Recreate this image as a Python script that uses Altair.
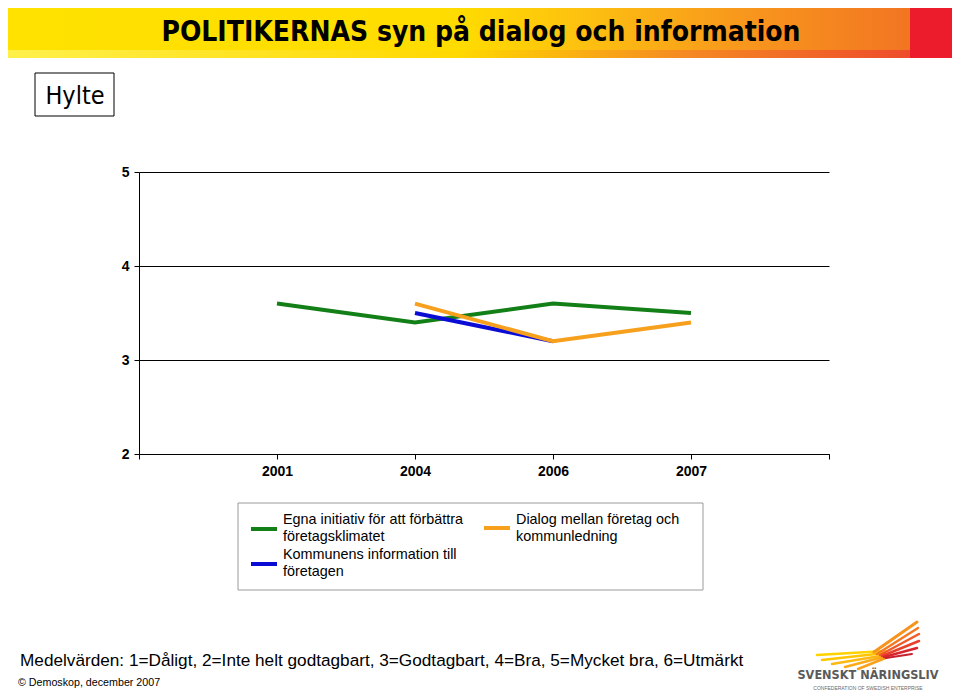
import altair as alt
import pandas as pd

# ---- data ----
years = ["2001", "2004", "2006", "2007"]
series_names = [
    "Egna initiativ för att förbättra företagsklimatet",
    "Kommunens information till företagen",
    "Dialog mellan företag och kommunledning",
]
egna = [3.6, 3.4, 3.6, 3.5]
kommunens = [None, 3.5, 3.2, None]
dialog = [None, 3.6, 3.2, 3.4]
series_colors = ["#137F17", "#0B0BD6", "#F6A01E"]

rows = []
for name, vals in zip(series_names, [egna, kommunens, dialog]):
    for i, (yr, v) in enumerate(zip(years, vals)):
        if v is not None:
            rows.append({"series": name, "year": yr, "pos": i + 1, "value": v})
df = pd.DataFrame(rows)

FONT = "Liberation Sans"
NARROW = "Liberation Sans Narrow, DejaVu Sans Condensed, Arial Narrow, sans-serif"

label_expr = "['', '2001', '2004', '2006', '2007', ''][datum.value]"

x_enc = alt.X(
    "pos:Q",
    scale=alt.Scale(domain=[0, 5], nice=False, zero=False),
    axis=alt.Axis(
        values=[0, 1, 2, 3, 4, 5],
        labelExpr=label_expr,
        title=None,
        grid=False,
        tickSize=5,
        labelPadding=5,
        labelFont=FONT,
        labelFontWeight="bold",
        labelFontSize=14,
        labelColor="black",
        domainColor="black",
        tickColor="black",
    ),
)
y_enc = alt.Y(
    "value:Q",
    scale=alt.Scale(domain=[2, 5], nice=False, zero=False),
    axis=alt.Axis(
        values=[2, 3, 4, 5],
        format="d",
        title=None,
        grid=True,
        gridColor="black",
        gridWidth=1,
        gridOpacity=1,
        tickSize=5,
        labelPadding=5,
        labelFont=FONT,
        labelFontWeight="bold",
        labelFontSize=14,
        labelColor="black",
        domainColor="black",
        tickColor="black",
    ),
)

layers = []
for name, col in zip(series_names, series_colors):
    layers.append(
        alt.Chart(df)
        .transform_filter(alt.datum.series == name)
        .mark_line(color=col, strokeWidth=4)
        .encode(x=x_enc, y=y_enc)
    )

one = pd.DataFrame({"a": [0]})
base = alt.Chart(one)

# ---- banner ----
banner = base.mark_rect(
    fill=alt.Gradient(
        gradient="linear",
        x1=0, x2=1, y1=0, y2=0,
        stops=[
            alt.GradientStop(color="#FFE200", offset=0),
            alt.GradientStop(color="#FFDC00", offset=0.5),
            alt.GradientStop(color="#FDC010", offset=0.64),
            alt.GradientStop(color="#F89A1C", offset=0.8),
            alt.GradientStop(color="#F27522", offset=1),
        ],
    )
).encode(x=alt.value(-131), x2=alt.value(771), y=alt.value(-164), y2=alt.value(-122))
banner_strip = base.mark_rect(
    fill=alt.Gradient(
        gradient="linear",
        x1=0, x2=1, y1=0, y2=0,
        stops=[
            alt.GradientStop(color="#FFF04A", offset=0),
            alt.GradientStop(color="#FFD800", offset=0.5),
            alt.GradientStop(color="#F58A22", offset=0.75),
            alt.GradientStop(color="#EE4B2B", offset=1),
        ],
    )
).encode(x=alt.value(-131), x2=alt.value(771), y=alt.value(-122), y2=alt.value(-114))
banner_red = base.mark_rect(fill="#EC1C2C").encode(
    x=alt.value(771), x2=alt.value(813), y=alt.value(-164), y2=alt.value(-114)
)
title = base.mark_text(
    text="POLITIKERNAS syn på dialog och information",
    font=NARROW, fontWeight="bold", fontSize=28, color="black",
    align="center", baseline="middle",
).encode(x=alt.value(342), y=alt.value(-139))

# ---- Hylte box ----
hylte_box = base.mark_rect(fill="white", stroke="black", strokeWidth=1).encode(
    x=alt.value(-104), x2=alt.value(-25), y=alt.value(-99), y2=alt.value(-56)
)
hylte = base.mark_text(
    text="Hylte", font=NARROW, fontSize=25, color="black",
    align="center", baseline="middle",
).encode(x=alt.value(-64), y=alt.value(-76))

# ---- legend ----
legend_box = base.mark_rect(fill="white", stroke="#9A9A9A", strokeWidth=1).encode(
    x=alt.value(99), x2=alt.value(564), y=alt.value(331), y2=alt.value(418)
)
legend_layers = [legend_box]
legend_items = [
    ("Egna initiativ för att förbättra\nföretagsklimatet", series_colors[0], 112, 357, 348),
    ("Kommunens information till\nföretagen", series_colors[1], 112, 392, 383),
    ("Dialog mellan företag och\nkommunledning", series_colors[2], 345, 356, 348),
]
for txt, col, lx, ly, ty in legend_items:
    legend_layers.append(
        base.mark_rule(color=col, strokeWidth=4).encode(
            x=alt.value(lx), x2=alt.value(lx + 26), y=alt.value(ly)
        )
    )
    legend_layers.append(
        base.mark_text(
            text=txt, lineBreak="\n", lineHeight=17, font=FONT, fontSize=14.4,
            color="black", align="left", baseline="middle",
        ).encode(x=alt.value(lx + 32), y=alt.value(ty))
    )

# ---- footer ----
footer = base.mark_text(
    text="Medelvärden: 1=Dåligt, 2=Inte helt godtagbart, 3=Godtagbart, 4=Bra, 5=Mycket bra, 6=Utmärkt",
    font=FONT, fontSize=17.2, color="black", align="left", baseline="middle",
).encode(x=alt.value(-119), y=alt.value(489))
copyright_t = base.mark_text(
    text="© Demoskop, december 2007",
    font=FONT, fontSize=10.7, color="black", align="left", baseline="middle",
).encode(x=alt.value(-121), y=alt.value(511))

# ---- logo (decoration, page coords shifted by plot origin 139,172) ----
OX, OY = 139, 172
wing = [
    (817, 655, 885, 651, "#FFD200", 2.5),
    (822, 660, 885, 653, "#FFC600", 2.5),
    (832, 664, 886, 655, "#FDB913", 2.5),
    (845, 667, 887, 656, "#FBAA19", 2.5),
    (858, 669, 888, 657, "#F9A01B", 2.5),
    (874, 652, 917, 622, "#F7941D", 3),
    (877, 654, 918, 628, "#F47920", 2.5),
    (880, 655, 919, 634, "#F15A29", 2.5),
    (882, 656, 919, 641, "#E8402A", 2.5),
    (884, 657, 917, 648, "#D9262E", 2.5),
    (886, 658, 912, 654, "#C8202F", 2),
]
logo_layers = []
for x1, y1, x2, y2, col, w in wing:
    logo_layers.append(
        base.mark_rule(color=col, strokeWidth=w, strokeCap="round").encode(
            x=alt.value(x1 - OX), y=alt.value(y1 - OY),
            x2=alt.value(x2 - OX), y2=alt.value(y2 - OY),
        )
    )
logo_layers.append(
    base.mark_text(
        text="SVENSKT NÄRINGSLIV", font="DejaVu Sans Condensed, sans-serif",
        fontWeight="bold", fontSize=12.6, color="#5A5A5A", align="center", baseline="middle",
    ).encode(x=alt.value(868 - OX), y=alt.value(675 - OY))
)
logo_layers.append(
    base.mark_text(
        text="CONFEDERATION OF SWEDISH ENTERPRISE", font=FONT,
        fontSize=5, color="#6A6A6A", align="center", baseline="middle",
    ).encode(x=alt.value(868 - OX), y=alt.value(688 - OY))
)

chart = (
    alt.layer(
        banner, banner_strip, banner_red, title, hylte_box, hylte,
        *layers, *legend_layers, footer, copyright_t, *logo_layers,
    )
    .properties(
        width=690,
        height=282,
        autosize=alt.AutoSizeParams(type="none"),
        padding={"left": 131, "top": 164, "right": 123, "bottom": 236},
        background="white",
    )
    .configure_view(stroke=None)
)

chart.save("out.html", embed_options={"renderer": "svg", "actions": False})
